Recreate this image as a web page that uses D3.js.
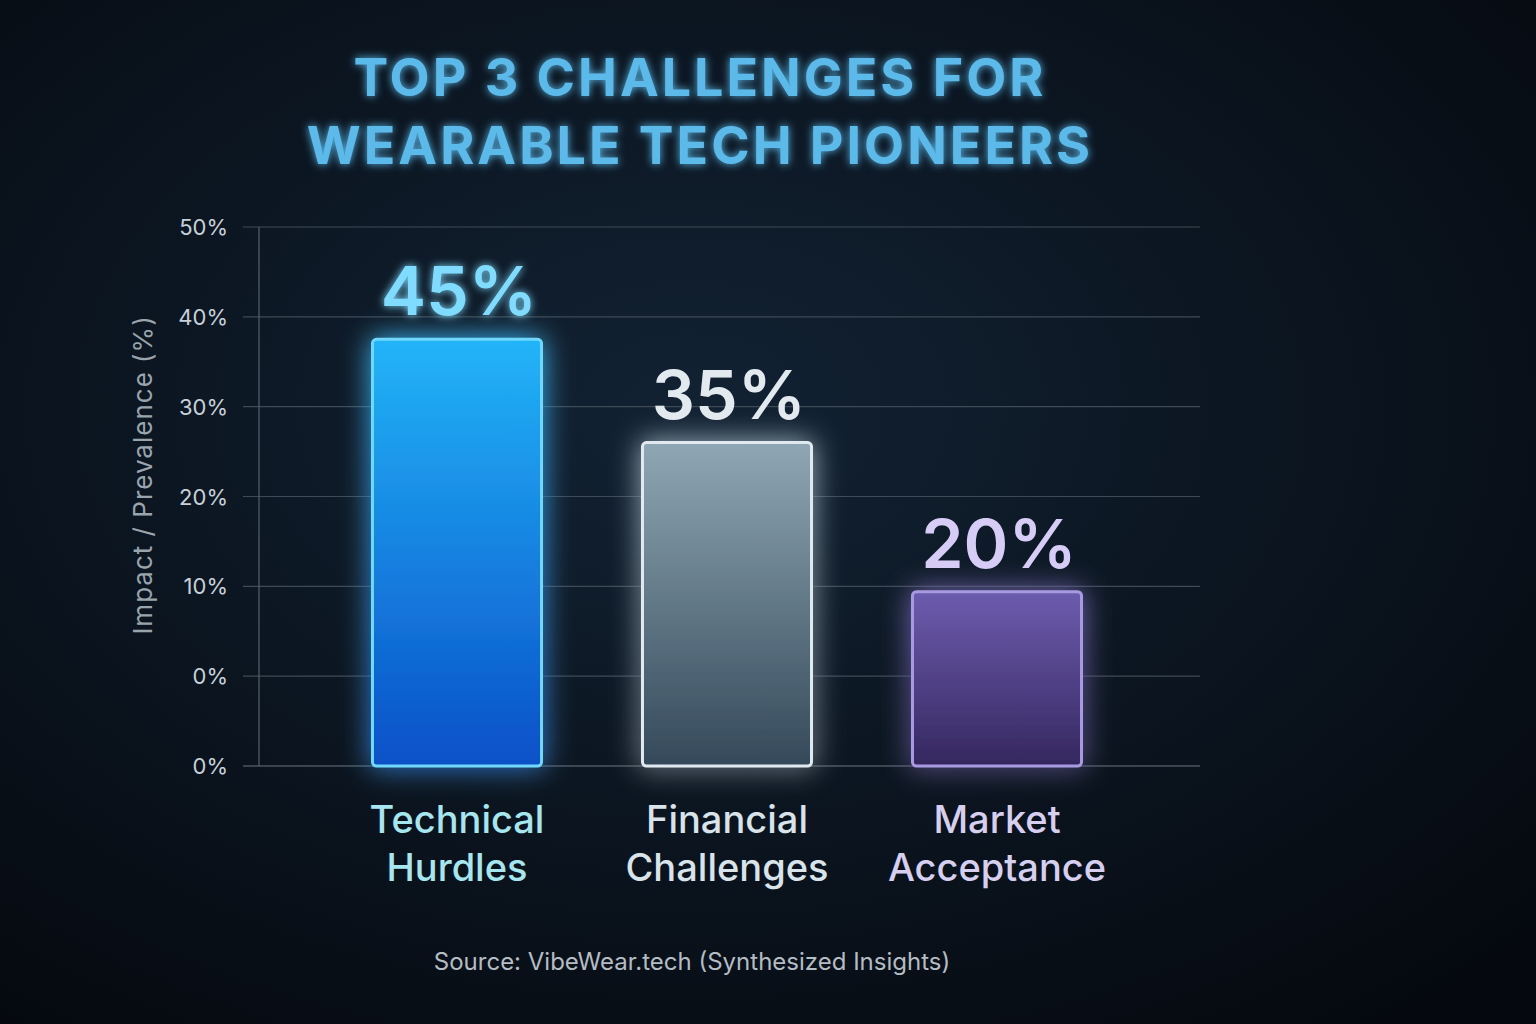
<!DOCTYPE html>
<html>
<head>
<meta charset="utf-8">
<script src="https://cdn.jsdelivr.net/npm/d3@7"></script>
<style>
  html, body { margin: 0; padding: 0; background: #08111a; }
  svg { display: block; }
</style>
</head>
<body>
<svg id="chart" width="1536" height="1024"></svg>
<script>
var categories = ["Technical\nHurdles", "Financial\nChallenges", "Market\nAcceptance"];
var valueLabels = ["45%", "35%", "20%"];
// bar tops as read off the gridlines (bars are not drawn to their labels in the original)
var barValues = [47.5, 36, 19.4];
var tickValues = [60, 50, 40, 30, 20, 10, 0];
var tickLabels = ["50%", "40%", "30%", "20%", "10%", "0%", "0%"];

var barTop = ["#22b4f8", "#8fa7b4", "#6d5cae"],
    barBottom = ["#0a50c8", "#34495a", "#34275f"],
    barStroke = ["#6fd8ff", "#dfe9ef", "#a89ae0"],
    valueColor = ["#7fdcff", "#e2eaf0", "#d6ccf6"],
    catColor = ["#a6e6ee", "#d8e4ea", "#d6cff0"];

var svg = d3.select("#chart");
var defs = svg.append("defs");

var bg = defs.append("radialGradient").attr("id", "bg").attr("cx", "45%").attr("cy", "40%").attr("r", "75%");
bg.append("stop").attr("offset", "0%").attr("stop-color", "#122233");
bg.append("stop").attr("offset", "100%").attr("stop-color", "#05090f");
svg.append("rect").attr("width", 1536).attr("height", 1024).attr("fill", "url(#bg)");

var glow = defs.append("filter").attr("id", "glow").attr("x", "-40%").attr("y", "-40%").attr("width", "180%").attr("height", "180%");
glow.append("feGaussianBlur").attr("stdDeviation", 14).attr("result", "b");
var m = glow.append("feMerge");
m.append("feMergeNode").attr("in", "b");
m.append("feMergeNode").attr("in", "SourceGraphic");

var tglow = defs.append("filter").attr("id", "tglow").attr("x", "-20%").attr("y", "-40%").attr("width", "140%").attr("height", "180%");
tglow.append("feGaussianBlur").attr("stdDeviation", 4).attr("result", "b");
var m2 = tglow.append("feMerge");
m2.append("feMergeNode").attr("in", "b");
m2.append("feMergeNode").attr("in", "SourceGraphic");

categories.forEach(function(c, i) {
  var g = defs.append("linearGradient").attr("id", "bar" + i).attr("x1", 0).attr("y1", 0).attr("x2", 0).attr("y2", 1);
  g.append("stop").attr("offset", "0%").attr("stop-color", barTop[i]);
  g.append("stop").attr("offset", "100%").attr("stop-color", barBottom[i]);
});

// title
svg.append("text").attr("x", 700).attr("text-anchor", "middle")
  .style("font-family", "Inter, 'DejaVu Sans', sans-serif").style("font-weight", 700)
  .style("font-size", "52px").style("letter-spacing", "3px").attr("fill", "#5cbaea")
  .attr("filter", "url(#tglow)")
  .selectAll("tspan").data(["TOP 3 CHALLENGES FOR", "WEARABLE TECH PIONEERS"]).enter()
  .append("tspan").attr("x", 700).attr("y", function(d, i) { return 96 + i * 68; }).text(function(d) { return d; });

var y = d3.scaleLinear().domain([0, 60]).range([766, 227]);
var x = d3.scaleBand().domain(categories).range([322, 1132]).paddingInner(0.374).paddingOuter(0.187);

// grid
var grid = svg.append("g");
grid.selectAll("line").data(tickValues).enter().append("line")
  .attr("x1", 243).attr("x2", 1200).attr("y1", function(d) { return y(d); }).attr("y2", function(d) { return y(d); })
  .attr("stroke", function(d) { return d === 0 ? "#6a7680" : "#3e4a55"; }).attr("stroke-width", 1.2);
svg.append("line").attr("x1", 259).attr("x2", 259).attr("y1", y(60)).attr("y2", y(0))
  .attr("stroke", "#56626c").attr("stroke-width", 1.2);

svg.append("g").selectAll("text").data(tickValues).enter().append("text")
  .attr("x", 228).attr("y", function(d) { return y(d) + 8; }).attr("text-anchor", "end")
  .style("font-family", "Inter, sans-serif").style("font-size", "22px").attr("fill", "#c8d0d8")
  .text(function(d, i) { return tickLabels[i]; });

svg.append("text").attr("transform", "translate(152,475) rotate(-90)").attr("text-anchor", "middle")
  .style("font-family", "Inter, sans-serif").style("font-size", "26px").style("letter-spacing", "1px").attr("fill", "#9aa4ac")
  .text("Impact / Prevalence (%)");

// bars
svg.append("g").selectAll("rect").data(barValues).enter().append("rect")
  .attr("x", function(d, i) { return x(categories[i]); })
  .attr("y", function(d) { return y(d); })
  .attr("width", x.bandwidth())
  .attr("height", function(d) { return y(0) - y(d); })
  .attr("rx", 4)
  .attr("fill", function(d, i) { return "url(#bar" + i + ")"; })
  .attr("stroke", function(d, i) { return barStroke[i]; }).attr("stroke-width", 3)
  .attr("filter", "url(#glow)");

// value labels
svg.append("g").selectAll("text").data(barValues).enter().append("text")
  .attr("x", function(d, i) { return x(categories[i]) + x.bandwidth() / 2 + 2; })
  .attr("y", function(d) { return y(d) - 24; })
  .attr("text-anchor", "middle")
  .style("font-family", "Inter, sans-serif").style("font-weight", 600).style("font-size", "68px")
  .attr("fill", function(d, i) { return valueColor[i]; })
  .attr("filter", function(d, i) { return i === 0 ? "url(#tglow)" : null; })
  .text(function(d, i) { return valueLabels[i]; });

// category labels
svg.append("g").selectAll("text").data(categories).enter().append("text")
  .attr("text-anchor", "middle")
  .style("font-family", "Inter, sans-serif").style("font-weight", 500).style("font-size", "38px")
  .attr("fill", function(d, i) { return catColor[i]; })
  .each(function(d) {
    var t = d3.select(this), cx = x(d) + x.bandwidth() / 2;
    d.split("\n").forEach(function(line, j) {
      t.append("tspan").attr("x", cx).attr("y", 833 + j * 48).text(line);
    });
  });

svg.append("text").attr("x", 692).attr("y", 970).attr("text-anchor", "middle")
  .style("font-family", "Inter, sans-serif").style("font-size", "24px").attr("fill", "#b4bcc4")
  .text("Source: VibeWear.tech (Synthesized Insights)");
</script>
</body>
</html>
